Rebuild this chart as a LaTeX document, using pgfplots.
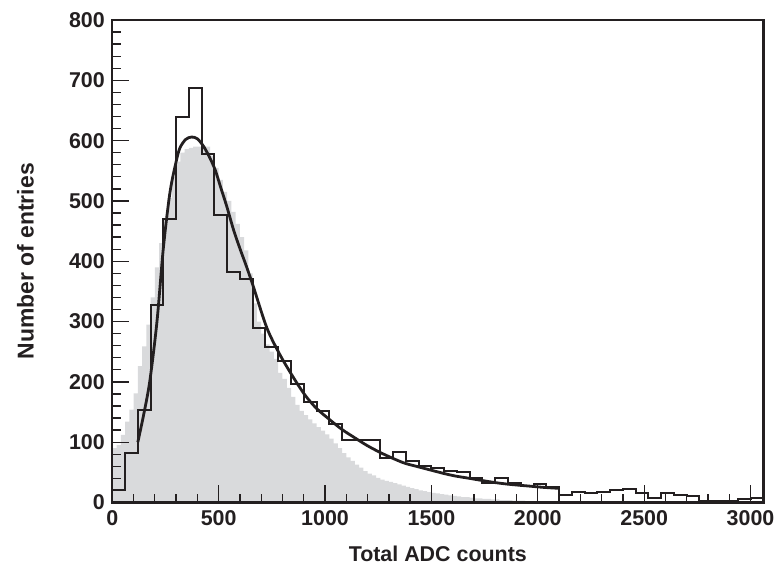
\documentclass[border=0pt]{standalone}
\usepackage{pgfplots}
\pgfplotsset{compat=1.18}
\usepackage{fontspec}
\setmainfont{Liberation Sans}
\definecolor{histgray}{RGB}{217,218,220}
\definecolor{ink}{RGB}{35,31,32}
\begin{document}
\begin{tikzpicture}
\useasboundingbox (-112.3bp,-65.5bp) rectangle (661.7bp,502.5bp);
\begin{axis}[
  at={(0,0)}, anchor=origin,
  scale only axis,
  width=651bp, height=482.5bp,
  xmin=0, xmax=3060, ymin=0, ymax=800,
  axis on top,
  axis line style={ink, line width=2.4bp},
  axis x line*=box, axis y line*=box,
  xtick={0,500,...,3000}, ytick={0,100,...,800},
  minor x tick num=4, minor y tick num=4,
  tick align=inside,
  xtick pos=bottom, ytick pos=left,
  major tick length=17bp, minor tick length=8.5bp,
  every tick/.style={ink, line width=1.3bp},
  /pgf/number format/assume math mode=true,
  /pgf/number format/1000 sep={},
  ticklabel style={font=\fontsize{21.5}{21.5}\selectfont\bfseries, text=ink},
  xticklabel style={yshift=-5bp},
  yticklabel style={xshift=-4bp},
  xlabel={Total ADC counts},
  ylabel={Number of entries},
  x label style={font=\fontsize{21.5}{21.5}\selectfont\bfseries, text=ink,
    inner sep=0pt, at={(axis description cs:0.5,-0.107)}, anchor=center},
  y label style={font=\fontsize{23}{23}\selectfont\bfseries, text=ink,
    inner sep=0pt, at={(axis description cs:-0.1336,0.5)}, anchor=center},
  clip=true,
]
% gray (fine-binned) histogram
\addplot[const plot, fill=histgray, draw=none] coordinates {
(0,90)(20,95)(40,112)(60,134)(80,154)(100,181)(120,226)(140,259)(160,295)(180,340)
(200,390)(220,430)(240,470)(260,505)(280,540)(300,565)(320,580)(340,586)(360,588)(380,590)
(400,590)(420,591)(440,590)(460,575)(480,555)(500,535)(520,515)(540,500)(560,482)(580,462)
(600,440)(620,418)(640,380)(660,330)(680,300)(700,280)(720,262)(740,250)(760,238)(780,215)
(800,205)(820,190)(840,175)(860,162)(880,152)(900,145)(920,138)(940,131)(960,125)(980,119)
(1000,113)(1020,106)(1040,98)(1060,90)(1080,82)(1100,75)(1120,69)(1140,63)(1160,58)(1180,52)
(1200,48)(1220,45)(1240,41)(1260,38)(1280,36)(1300,34)(1320,32)(1340,30)(1360,28)(1380,26)
(1400,24)(1420,22)(1440,20)(1460,19)(1480,17)(1500,16)(1520,15)(1540,14)(1560,13)(1580,12)
(1600,11)(1620,10)(1640,9)(1660,9)(1680,8)(1700,7)(1720,7)(1740,6)(1760,6)(1780,5)
(1800,5)(1820,4)(1840,4)(1860,4)(1880,3)(1900,3)(1920,3)(1940,2)(1960,2)(1980,2)
(2000,2)(2020,1)(2040,1)(2060,1)(2080,1)(2100,0)
} \closedcycle;
% black data histogram
\addplot[const plot, draw=ink, line width=2bp] coordinates {
(0,0)(0,20)(60,82)(120,154)(180,328)(240,470)(300,639)(360,688)(420,578)(480,477)
(540,383)(600,370)(660,289)(720,257)(780,234)(840,196)(900,166)(960,151)(1020,130)(1080,104)
(1140,104)(1200,104)(1260,73)(1320,83)(1380,69)(1440,60)(1500,57)(1560,52)(1620,50)(1680,41)
(1740,33)(1800,40)(1860,32)(1920,28)(1980,30)(2040,26)(2100,12)(2160,18)(2220,15)(2280,18)
(2340,21)(2400,22)(2460,15)(2520,7)(2580,15)(2640,13)(2700,10)(2760,3)(2820,3)(2880,2)
(2940,5)(3000,7)(3060,7)
};
% fit curve
\addplot[smooth, draw=ink, line width=2.8bp] coordinates {
(120,100)(150,150)(177,203)(210,300)(240,422)(271,514)(300,565)(318,588)(345,602)(373,606)
(400,603)(428,591)(455,574)(483,552)(510,522)(538,491)(570,452)(600,421)(630,392)(663,358)
(726,290)(788,245)(850,208)(906,178)(960,156)(1023,137)(1080,121)(1141,107)(1200,94)(1259,83)
(1320,73)(1376,65)(1440,59)(1494,54)(1560,48)(1611,44)(1680,40)(1729,37)(1800,33)(1870,30)
(1950,27.5)(2030,25)(2100,23.5)
};
\end{axis}
\end{tikzpicture}
\end{document}
